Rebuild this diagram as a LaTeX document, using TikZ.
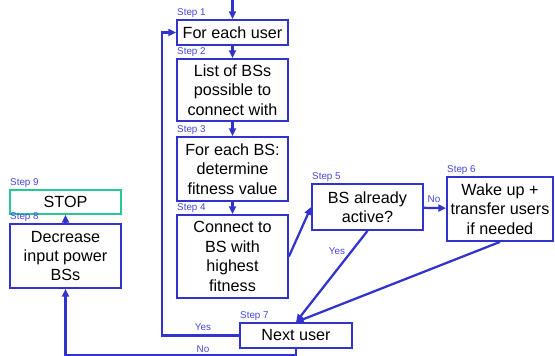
\documentclass[tikz,border=0pt]{standalone}
\usepackage{fontspec}
\setmainfont{Liberation Sans}
\usetikzlibrary{arrows.meta}
\definecolor{flowblue}{RGB}{50,50,205}
\definecolor{tagblue}{RGB}{70,70,220}
\definecolor{stopgreen}{RGB}{40,200,150}
\tikzset{
  stepbox/.style={draw=flowblue, line width=1.3pt, fill=white, align=center,
    font=\fontsize{11.5}{13.8}\selectfont, inner sep=1pt},
  steptag/.style={font=\fontsize{7}{8}\selectfont, text=tagblue, anchor=south west,
    inner sep=0.6pt},
  flow/.style={draw=flowblue, line width=1.6pt, -{Triangle[length=5.5pt,width=5pt]}},
  answer/.style={font=\fontsize{7}{8}\selectfont, text=tagblue, inner sep=1pt},
}

\begin{document}
\begin{tikzpicture}
\useasboundingbox (0,0) rectangle (13.875,8.9);
% main column
\node[stepbox, minimum width=2.775cm, minimum height=0.625cm] (user) at (5.8125,8.088) {For each user};
\node[stepbox, minimum width=2.775cm, minimum height=1.55cm] (list) at (5.8125,6.650) {List of BSs\\possible to\\connect with};
\node[stepbox, minimum width=2.775cm, minimum height=1.6cm] (fit) at (5.8125,4.675) {For each BS:\\determine\\fitness value};
\node[stepbox, minimum width=2.775cm, minimum height=2.075cm] (conn) at (5.8125,2.488) {Connect to\\BS with\\highest\\fitness};
% right branch
\node[stepbox, minimum width=2.775cm, minimum height=1.15cm] (active) at (9.1875,3.725) {BS already\\active?};
\node[stepbox, minimum width=2.65cm, minimum height=1.6cm] (wake) at (12.500,3.675) {Wake up +\\transfer users\\if needed};
\node[stepbox, minimum width=2.8cm, minimum height=0.625cm] (next) at (7.400,0.513) {Next user};
% left column
\node[stepbox, draw=stopgreen, minimum width=2.775cm, minimum height=0.6cm] (stop) at (1.6375,3.850) {STOP};
\node[stepbox, minimum width=2.775cm, minimum height=1.6cm] (decr) at (1.6375,2.500) {Decrease\\input power\\BSs};

% step tags
\node[steptag] at (user.north west) {Step 1};
\node[steptag] at (list.north west) {Step 2};
\node[steptag] at (fit.north west) {Step 3};
\node[steptag] at (conn.north west) {Step 4};
\node[steptag] at (active.north west) {Step 5};
\node[steptag] at (wake.north west) {Step 6};
\node[steptag] at (next.north west) {Step 7};
\node[steptag] at (decr.north west) {Step 8};
\node[steptag] at (stop.north west) {Step 9};

% connectors
\coordinate (start) at (5.8125,8.9);
\draw[flow] (start) -- (user.north);
\draw[flow] (user) -- (list);
\draw[flow] (list) -- (fit);
\draw[flow] (fit) -- (conn);
\draw[flow] (conn.east) -- (active.west);
\draw[flow] (active) -- (wake);
\draw[flow] (active.south) -- (next.north);
\draw[flow] (wake.south) -- (next.north);
\draw[flow] (next.west) -- ++(-1.925,0) |- (user.west);
\draw[flow] (next.south) -- ++(0,-0.15) -| (decr.south);
\draw[flow] (decr) -- (stop);

% answers
\node[answer] (no1) at (10.850,3.925) {No};
\node[answer] (yes1) at (8.425,2.625) {Yes};
\node[answer] (yes2) at (5.075,0.725) {Yes};
\node[answer] (no2) at (5.075,0.175) {No};
\end{tikzpicture}
\end{document}
